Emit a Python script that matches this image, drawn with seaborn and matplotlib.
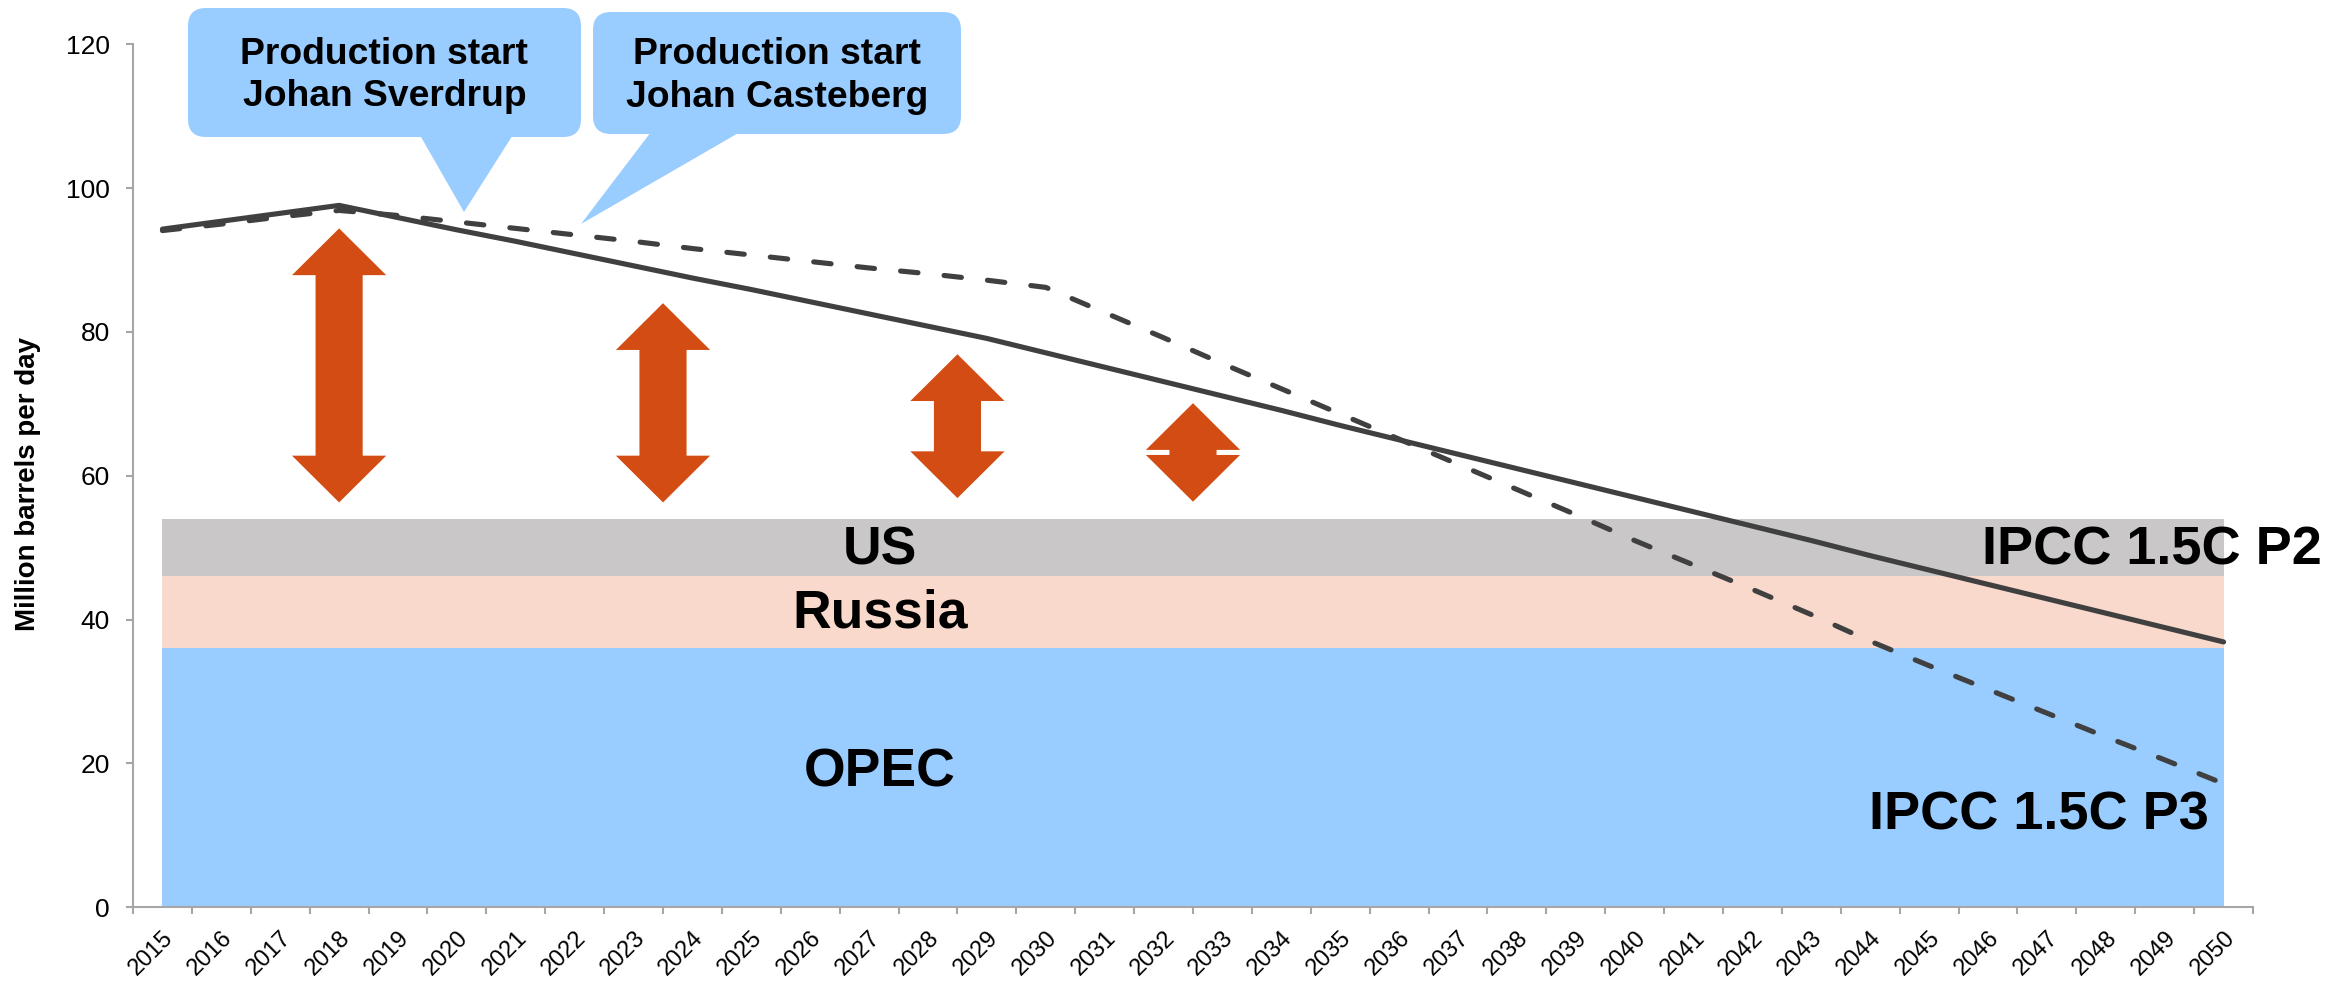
"""Oil demand paths under IPCC 1.5C scenarios versus OPEC, Russia and US supply."""
import numpy as np
import pandas as pd
import matplotlib
matplotlib.use("Agg")
import matplotlib.pyplot as plt
from matplotlib.patches import FancyBboxPatch, Polygon
import seaborn as sns

years = list(range(2015, 2051))
ipcc_p2 = [94.3, 95.4, 96.5, 97.6, 95.9, 94.2, 92.6, 90.9, 89.2, 87.5, 85.9, 84.2,
           82.5, 80.8, 79.1, 77.1, 75.1, 73.1, 71.1, 69.1, 67.0, 65.0, 63.0, 61.0,
           59.0, 57.0, 55.0, 53.0, 51.0, 48.9, 46.9, 44.9, 42.9, 40.9, 38.9, 36.9]
ipcc_p3 = [94.1, 95.0, 96.0, 96.9, 96.2, 95.3, 94.4, 93.5, 92.6, 91.6, 90.7, 89.8,
           88.9, 88.1, 87.2, 86.2, 82.7, 79.2, 75.6, 72.1, 68.6, 65.1, 61.6, 58.1,
           54.6, 51.0, 47.6, 44.2, 40.7, 37.0, 33.6, 30.3, 27.0, 23.7, 20.5, 17.2]
opec = [36.0] * len(years)
russia = [10.0] * len(years)
us = [8.0] * len(years)

band_names = ["OPEC", "Russia", "US"]
band_colors = ["#99CCFF", "#F9D9CB", "#C9C7C8"]

gap_years = [2018, 2023.5, 2028.5, 2032.5]
gap_top = [94.4, 84.0, 76.9, 70.1]
gap_bottom = [56.3, 56.3, 56.9, 56.4]

callout_texts = ["Production start\nJohan Sverdrup", "Production start\nJohan Casteberg"]

LINE = "#404040"
ARROW = "#D34C13"
AXIS = "#A6A6A6"
W, H = 2329, 983


def double_arrow(ax, xc, y0, y1, color):
    hl, hw, sw = 6.5, 0.8, 0.4
    pts = [(xc, y1), (xc + hw, y1 - hl), (xc + sw, y1 - hl), (xc + sw, y0 + hl),
           (xc + hw, y0 + hl), (xc, y0), (xc - hw, y0 + hl), (xc - sw, y0 + hl),
           (xc - sw, y1 - hl), (xc - hw, y1 - hl)]
    ax.add_patch(Polygon(pts, closed=True, facecolor=color, edgecolor="none", zorder=4))


def callout(ov, box, base, tip, text):
    x0, y0, x1, y1 = box
    ov.add_patch(FancyBboxPatch((x0, y0), x1 - x0, y1 - y0,
                                boxstyle="round,pad=0,rounding_size=18",
                                facecolor="#99CCFF", edgecolor="none"))
    ov.add_patch(Polygon([base[0], base[1], tip], closed=True,
                         facecolor="#99CCFF", edgecolor="none"))
    ov.text((x0 + x1) / 2, (y0 + y1) / 2 + 3, text, ha="center", va="center",
            fontsize=26.8, fontweight="bold", linespacing=1.27, color="black")


sns.set_theme(style="white")
plt.rcParams["font.family"] = ["Liberation Sans", "DejaVu Sans"]
plt.rcParams["text.color"] = "black"

fig = plt.figure(figsize=(W / 100, H / 100), dpi=100)
ax = fig.add_axes([133 / W, 1 - 907.3 / H, (2253 - 133) / W, (907.3 - 44.3) / H])

x = np.arange(len(years))
ax.stackplot(x, opec, russia, us, colors=band_colors, linewidth=0, zorder=1)

df = pd.DataFrame({"x": x, "p2": ipcc_p2, "p3": ipcc_p3})
sns.lineplot(data=df, x="x", y="p2", ax=ax, color=LINE, lw=3.7,
             solid_capstyle="round", solid_joinstyle="round", zorder=5)
sns.lineplot(data=df, x="x", y="p3", ax=ax, color=LINE, lw=3.7, zorder=5)
dashed = ax.lines[-1]
dashed.set_linestyle((0, (3.4, 5.1)))
dashed.set_dash_capstyle("round")

for xc, lo, hi in zip(gap_years, gap_bottom, gap_top):
    double_arrow(ax, xc - years[0], lo, hi, ARROW)

# band labels
label_y = {"US": 47.6, "Russia": 38.95, "OPEC": 16.75}
for name in band_names:
    ax.text(12.18, label_y[name], name, ha="center", va="baseline",
            fontsize=38.5, fontweight="bold", zorder=6)
ax.text(36.66, 47.6, "IPCC 1.5C P2", ha="right", va="baseline", fontsize=39,
        fontweight="bold", clip_on=False, zorder=6)
ax.text(34.75, 10.85, "IPCC 1.5C P3", ha="right", va="baseline", fontsize=39,
        fontweight="bold", clip_on=False, zorder=6)

ax.set_xlim(-0.5, len(years) - 0.5)
ax.set_ylim(0, 120)
ax.set_yticks(range(0, 121, 20))
ax.set_xticks(np.arange(-0.5, len(years), 1))
ax.set_xticklabels([])
ax.set_xticks(x, minor=True)
ax.set_xticklabels([str(y) for y in years], minor=True, rotation=45, ha="right",
                   va="top", rotation_mode="anchor")
ax.tick_params(axis="x", which="major", bottom=True, length=5, width=1.5, color=AXIS)
ax.tick_params(axis="x", which="minor", bottom=True, length=0, pad=14, labelsize=17,
               labelcolor="black")
ax.tick_params(axis="y", left=True, length=5, width=1.5, color=AXIS, pad=11.5,
               labelsize=19, labelcolor="black")
ax.set_xlabel("")
ax.set_ylabel("")
sns.despine(ax=ax)
for side in ["left", "bottom"]:
    ax.spines[side].set_color(AXIS)
    ax.spines[side].set_linewidth(1.5)
    ax.spines[side].set_zorder(7)

fig.text(28 / W, 1 - 484 / H, "Million barrels per day", rotation=90, ha="center",
         va="center", fontsize=20, fontweight="bold")

# speech-bubble callouts, drawn in pixel space
ov = fig.add_axes([0, 0, 1, 1])
ov.set_xlim(0, W)
ov.set_ylim(H, 0)
ov.axis("off")
callout(ov, (188, 8, 581, 137), [(417, 130), (516, 130)], (464, 212), callout_texts[0])
callout(ov, (593, 12, 961, 134), [(654, 128), (747, 128)], (581, 224), callout_texts[1])

fig.savefig("out.png", dpi=100)
plt.close(fig)
